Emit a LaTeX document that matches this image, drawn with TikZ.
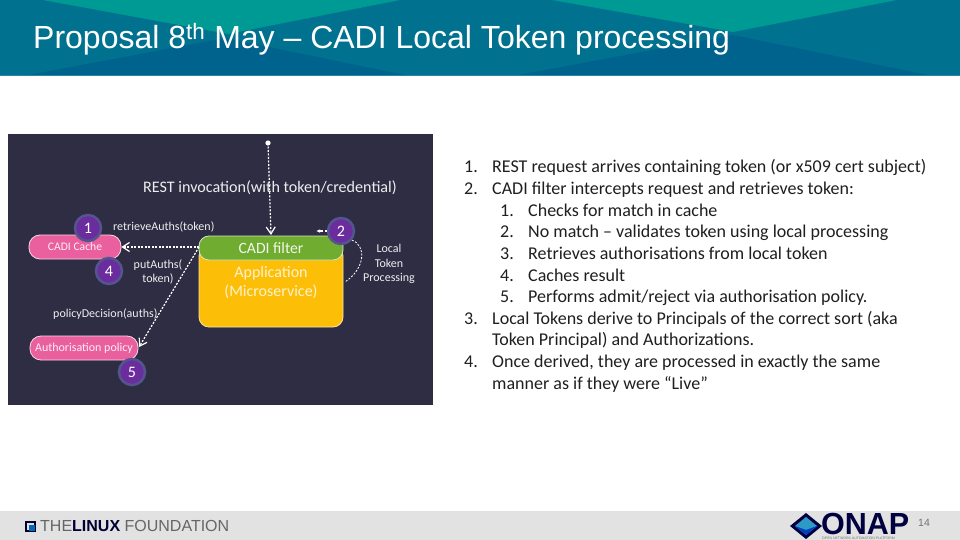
\documentclass[tikz,border=0pt]{standalone}
\usepackage{fontspec}
\setmainfont{Liberation Sans}
\newfontfamily\carl{Carlito}
\usetikzlibrary{arrows.meta,calc}
\definecolor{panel}{HTML}{2E2D43}
\definecolor{pinkc}{HTML}{EA5F9E}
\definecolor{greenc}{HTML}{6FAC2F}
\definecolor{yellowc}{HTML}{FDBE08}
\definecolor{purplec}{HTML}{6B2C9E}
\definecolor{ringc}{HTML}{53558F}
\definecolor{bandc}{HTML}{00638E}
\definecolor{tealc}{HTML}{009A95}
\definecolor{midc}{HTML}{00728F}
\definecolor{footc}{HTML}{E2E2E2}
\tikzset{
  pill/.style={draw=white!75!pinkc,line width=.8pt,fill=pinkc,rounded corners=11pt,text=white!90!pinkc,font=\carl\fontsize{11.6}{12}\selectfont,inner sep=0pt,align=center},
  numdot/.style={circle,fill=purplec,draw=ringc,line width=2.5pt,text=white,minimum size=26pt,inner sep=0pt,font=\carl\fontsize{16}{16}\selectfont},
  lbl/.style={text=white!92!panel,font=\carl\fontsize{12}{14.5}\selectfont,align=center,inner sep=0pt},
  dash1/.style={draw=white,line width=1.2pt,dash pattern=on 2pt off 1.5pt},
  tip/.style={-{Straight Barb[length=7pt,width=9pt,line width=1.2pt]}},
  listtxt/.style={anchor=base west,inner sep=0pt,text=black!88,font=\carl\fontsize{18}{20}\selectfont},
}
\begin{document}
\begin{tikzpicture}[x=1pt,y=-1pt]
\useasboundingbox (0,0) rectangle (960,540);
\fill[white] (0,0) rectangle (960,540);
% title band
\fill[midc] (0,0) rectangle (960,76);
\fill[bandc] (23,76) -- (225,38) -- (410,76) -- cycle;
\fill[bandc] (513,76) -- (733,35) -- (933,76) -- cycle;
\fill[tealc] (43,0) -- (400,0) -- (228,34) -- cycle;
\fill[tealc] (552,0) -- (897,0) -- (733,32) -- cycle;
\fill[midc!85!white] (0,75.5) rectangle (960,76.5);
\node[anchor=base west,inner sep=0,text=white,font=\fontsize{32}{34}\selectfont] (title) at (33,49) {Proposal 8\textsuperscript{th} May – CADI Local Token processing};
% panel
\fill[panel] (8,134) rectangle (433,405);
\node[lbl,font=\carl\fontsize{16.1}{17}\selectfont,anchor=base] (rest) at (270,192) {REST invocation(with token/credential)};
% app box
\path[fill=yellowc,draw=white!60!yellowc,line width=.8pt,rounded corners=10pt] (199,246) rectangle (343,327);
\node[lbl,text=white!80!yellowc,font=\carl\fontsize{16}{19}\selectfont] (app) at (271,282.5) {Application\\(Microservice)};
\path[fill=greenc,draw=white!70!greenc,line width=.8pt,rounded corners=10pt] (199,236) rectangle (343,260);
\node[lbl,text=white!90!greenc,font=\carl\fontsize{15.7}{16}\selectfont] (filter) at (271,248) {CADI filter};
\node[pill,minimum width=92pt,minimum height=24pt] (cache) at (75,247) {CADI Cache};
\node[pill,minimum width=108pt,minimum height=24pt,font=\carl\fontsize{12}{13}\selectfont] (policy) at (84,348) {Authorisation policy};
% connectors
\coordinate (start) at (268,143);
\fill[white] (start) circle (2.6pt);
\draw[dash1,tip] (start) -- (271,235);
\draw[dash1,tip] (199,247) -- (cache.east);
\draw[dash1,tip] (199,247) -- (139,347);
\coordinate (loopb) at (345,282);
\node[numdot] (n1) at (88,228) {1};
\node[numdot] (n2) at (341,231) {2};
\node[numdot] (n4) at (109,271) {4};
\node[numdot] (n5) at (132,372) {5};
\draw[dash1,line width=.8pt] (n2.-40) .. controls (366,245) and (366,268) .. (loopb);
\draw[dash1,-{Latex[length=4pt,width=3.5pt]}] (n2) -- (316,231);
\node[lbl,anchor=west] (r) at (113,227) {retrieveAuths(token)};
\node[lbl] (p) at (158,272) {putAuths(\\token)};
\node[lbl,anchor=west] (d) at (53,314) {policyDecision(auths)};
\node[lbl] (ltp) at (389,264) {Local\\Token\\Processing};
% list
\foreach \y/\n/\t in {173/1./{REST request arrives containing token (or x509 cert subject)},
 194/2./{CADI filter intercepts request and retrieves token:},
 324/3./{Local Tokens derive to Principals of the correct sort (aka},
 367/4./{Once derived, they are processed in exactly the same}}{
  \node[listtxt] at (464,\y) {\n};
  \node[listtxt] at (492,\y) {\t};
}
\node[listtxt] (l3b) at (492,345) {Token Principal) and Authorizations.};
\node[listtxt] (l4b) at (492,389) {manner as if they were “Live”};
\foreach \y/\n/\t in {216/1./{Checks for match in cache},
 237/2./{No match – validates token using local processing},
 259/3./{Retrieves authorisations from local token},
 281/4./{Caches result},
 302/5./{Performs admit/reject via authorisation policy.}}{
  \node[listtxt] at (500,\y) {\n};
  \node[listtxt] at (528,\y) {\t};
}
% footer
\fill[footc] (0,511) rectangle (960,540);
\draw[line width=2pt,draw=black!80!blue] (26,521.5) rectangle (35,530.5);
\fill[blue!40!cyan!70!black] (29,525) rectangle (35,531);
\node[anchor=west,inner sep=0,text=black!60,font=\fontsize{16}{17}\selectfont] (lf) at (40,526) {THE\textbf{\textcolor{black!80!blue}{LINUX}} FOUNDATION};
\fill[black!75!blue] (790,526) -- (806,513) -- (822,526) -- (806,539) -- cycle;
\fill[cyan!55!teal] (795,526) -- (806,517) -- (817,526) -- (806,535) -- cycle;
\fill[blue!50!teal] (795,526) -- (806,535) -- (817,526) -- (806,530) -- cycle;
\node[anchor=west,inner sep=0,text=black!75!blue,font=\bfseries\fontsize{30.5}{31}\selectfont] (onap) at (821,523.5) {ONAP};
\node[anchor=west,inner sep=0,text=black!55,font=\fontsize{3.5}{4}\selectfont] (sub) at (822,538) {OPEN NETWORK AUTOMATION PLATFORM};
\node[anchor=west,inner sep=0,text=black!55,font=\fontsize{10.5}{11}\selectfont] (pg) at (918,523) {14};
\end{tikzpicture}
\end{document}
